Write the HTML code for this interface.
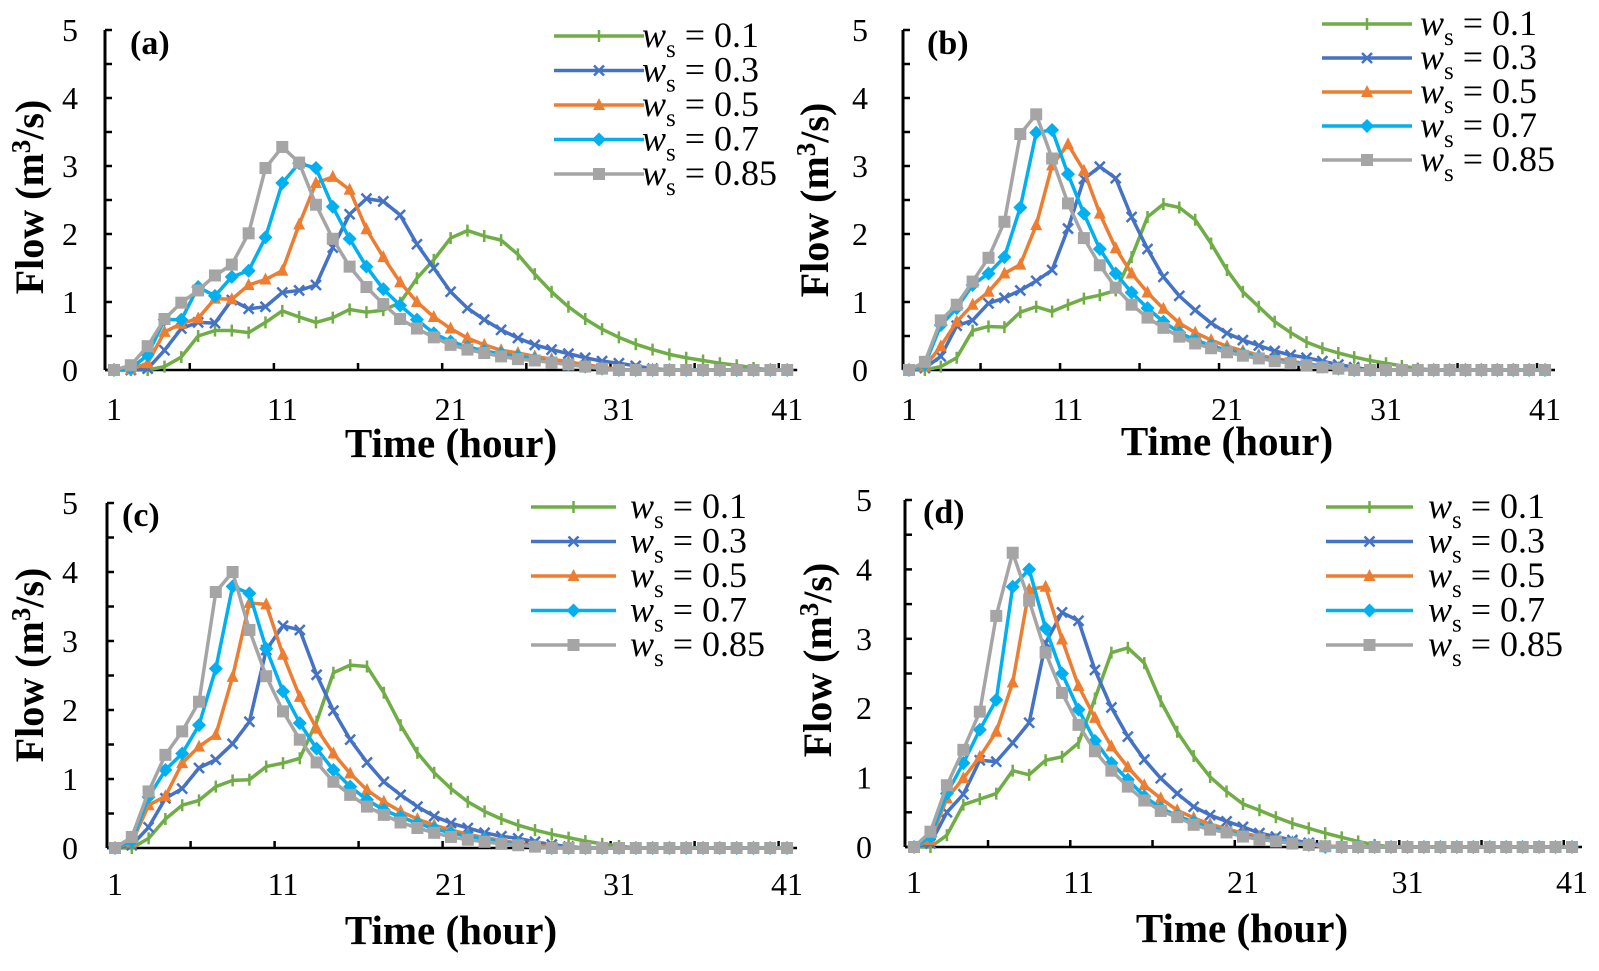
<!DOCTYPE html>
<html><head><meta charset="utf-8">
<style>
html,body{margin:0;padding:0;background:#fff;}
svg{display:block;font-family:"Liberation Serif",serif;}
</style></head>
<body>
<svg id="fig" width="1599" height="971" viewBox="0 0 1599 971" xmlns="http://www.w3.org/2000/svg"></svg>
<script>
const hours = Array.from({length:41},(_,i)=>i+1);
const xTickLabels = [1,11,21,31,41];
const yTickLabels = [0,1,2,3,4,5];
const seriesNames = ["0.1","0.3","0.5","0.7","0.85"];

const a_w01 = [0,0,0,0.05,0.19,0.5,0.58,0.58,0.55,0.7,0.87,0.78,0.7,0.77,0.89,0.85,0.88,0.99,1.35,1.62,1.94,2.05,1.97,1.91,1.7,1.41,1.15,0.93,0.75,0.6,0.48,0.38,0.3,0.23,0.18,0.14,0.1,0.07,0.03,0,0];
const a_w03 = [0,0,0.02,0.29,0.61,0.7,0.69,1.03,0.9,0.93,1.14,1.17,1.25,1.8,2.29,2.52,2.48,2.28,1.85,1.5,1.15,0.91,0.74,0.59,0.47,0.37,0.3,0.24,0.18,0.13,0.1,0.06,0.02,0,0,0,0,0,0,0,0];
const a_w05 = [0,0.01,0.1,0.56,0.68,0.76,1.05,1.04,1.25,1.33,1.46,2.14,2.75,2.84,2.65,2.07,1.66,1.29,1.0,0.78,0.61,0.47,0.37,0.29,0.25,0.2,0.16,0.12,0.08,0.04,0.01,0,0,0,0,0,0,0,0,0,0];
const a_w07 = [0,0.02,0.22,0.74,0.74,1.22,1.09,1.37,1.46,1.95,2.75,3.04,2.97,2.4,1.93,1.52,1.19,0.95,0.74,0.54,0.42,0.34,0.28,0.24,0.2,0.16,0.12,0.08,0.05,0.02,0,0,0,0,0,0,0,0,0,0,0];
const a_w085 = [0,0.07,0.35,0.75,0.99,1.17,1.39,1.55,2.01,2.97,3.28,3.05,2.43,1.93,1.52,1.22,0.97,0.75,0.61,0.48,0.37,0.3,0.25,0.2,0.16,0.14,0.11,0.08,0.05,0.02,0,0,0,0,0,0,0,0,0,0,0];

const b_w01 = [0,0,0.05,0.18,0.58,0.64,0.63,0.85,0.93,0.86,0.96,1.05,1.1,1.17,1.66,2.25,2.44,2.39,2.21,1.86,1.47,1.15,0.93,0.71,0.55,0.41,0.32,0.25,0.19,0.14,0.1,0.06,0.02,0,0,0,0,0,0,0,0];
const b_w03 = [0,0.03,0.2,0.65,0.73,0.98,1.06,1.17,1.31,1.47,2.08,2.81,2.99,2.82,2.25,1.78,1.37,1.09,0.88,0.69,0.54,0.44,0.36,0.28,0.22,0.18,0.13,0.08,0.04,0,0,0,0,0,0,0,0,0,0,0,0];
const b_w05 = [0,0.05,0.35,0.71,0.96,1.15,1.42,1.55,2.13,3.01,3.32,2.93,2.3,1.79,1.42,1.14,0.9,0.69,0.55,0.44,0.35,0.28,0.22,0.17,0.13,0.09,0.06,0.03,0,0,0,0,0,0,0,0,0,0,0,0,0];
const b_w07 = [0,0.08,0.66,0.91,1.25,1.42,1.66,2.39,3.49,3.53,2.88,2.3,1.78,1.42,1.14,0.91,0.71,0.55,0.44,0.36,0.29,0.24,0.19,0.15,0.11,0.08,0.05,0.02,0,0,0,0,0,0,0,0,0,0,0,0,0];
const b_w085 = [0,0.12,0.73,0.96,1.3,1.65,2.18,3.47,3.76,3.11,2.45,1.94,1.54,1.21,0.96,0.77,0.62,0.49,0.39,0.32,0.26,0.21,0.17,0.13,0.1,0.07,0.04,0.02,0,0,0,0,0,0,0,0,0,0,0,0,0];

const c_w01 = [0,0,0.14,0.42,0.62,0.69,0.89,0.98,0.99,1.18,1.23,1.3,1.83,2.54,2.65,2.63,2.25,1.78,1.38,1.09,0.86,0.67,0.53,0.42,0.33,0.26,0.2,0.15,0.1,0.06,0.03,0,0,0,0,0,0,0,0,0,0];
const c_w03 = [0,0.04,0.3,0.72,0.86,1.16,1.28,1.51,1.83,2.87,3.22,3.16,2.51,1.99,1.57,1.24,0.96,0.77,0.6,0.46,0.36,0.29,0.22,0.17,0.14,0.09,0.05,0.02,0,0,0,0,0,0,0,0,0,0,0,0,0];
const c_w05 = [0,0.08,0.62,0.75,1.23,1.47,1.64,2.48,3.55,3.53,2.8,2.19,1.73,1.37,1.08,0.84,0.67,0.53,0.42,0.33,0.26,0.2,0.15,0.11,0.07,0.04,0.02,0,0,0,0,0,0,0,0,0,0,0,0,0,0];
const c_w07 = [0,0.1,0.74,1.13,1.37,1.78,2.6,3.79,3.69,2.89,2.27,1.81,1.44,1.13,0.89,0.7,0.55,0.45,0.36,0.28,0.22,0.17,0.13,0.09,0.06,0.03,0,0,0,0,0,0,0,0,0,0,0,0,0,0,0];
const c_w085 = [0,0.16,0.82,1.35,1.69,2.12,3.71,4.0,3.16,2.49,1.98,1.57,1.24,0.96,0.77,0.6,0.48,0.37,0.29,0.22,0.16,0.12,0.09,0.06,0.04,0.02,0,0,0,0,0,0,0,0,0,0,0,0,0,0,0];

const d_w01 = [0,0,0.17,0.61,0.69,0.77,1.1,1.04,1.25,1.3,1.5,2.14,2.8,2.87,2.65,2.1,1.66,1.31,1.01,0.8,0.62,0.53,0.43,0.34,0.27,0.2,0.14,0.08,0.03,0,0,0,0,0,0,0,0,0,0,0,0];
const d_w03 = [0,0.05,0.5,0.76,1.25,1.23,1.5,1.79,2.94,3.38,3.26,2.55,2.01,1.59,1.26,0.99,0.77,0.58,0.46,0.37,0.29,0.2,0.15,0.1,0.06,0.02,0,0,0,0,0,0,0,0,0,0,0,0,0,0,0];
const d_w05 = [0,0.1,0.7,0.99,1.3,1.66,2.37,3.71,3.75,2.99,2.32,1.86,1.45,1.15,0.89,0.7,0.53,0.42,0.33,0.26,0.2,0.15,0.11,0.07,0.04,0.02,0,0,0,0,0,0,0,0,0,0,0,0,0,0,0];
const d_w07 = [0,0.15,0.77,1.21,1.69,2.12,3.75,4.0,3.15,2.5,1.98,1.53,1.21,0.97,0.73,0.56,0.45,0.36,0.28,0.22,0.17,0.12,0.09,0.06,0.03,0,0,0,0,0,0,0,0,0,0,0,0,0,0,0,0];
const d_w085 = [0,0.22,0.89,1.4,1.95,3.33,4.24,3.55,2.8,2.22,1.76,1.38,1.1,0.87,0.67,0.52,0.43,0.32,0.25,0.21,0.15,0.11,0.08,0.05,0.03,0.01,0,0,0,0,0,0,0,0,0,0,0,0,0,0,0];

const NS="http://www.w3.org/2000/svg";
const svg=document.getElementById('fig');
const colors=["#70AD47","#4472C4","#ED7D31","#00B0F0","#A5A5A5"];
const markerKinds=["plus","cross","tri","diamond","square"];

function mk(tag,attrs,parent){const e=document.createElementNS(NS,tag);for(const k in attrs)e.setAttribute(k,attrs[k]);(parent||svg).appendChild(e);return e;}

function drawMarker(g,kind,x,y,c){
  let m;
  if(kind==="plus"){m=mk('path',{d:`M${x},${y-6}V${y+6}`,stroke:c,'stroke-width':2.5},g);}
  else if(kind==="cross"){m=mk('path',{d:`M${x-5},${y-5}L${x+5},${y+5}M${x+5},${y-5}L${x-5},${y+5}`,stroke:c,'stroke-width':2.5},g);}
  else if(kind==="tri"){m=mk('polygon',{points:`${x},${y-7} ${x+6},${y+5} ${x-6},${y+5}`,fill:c},g);}
  else if(kind==="diamond"){m=mk('polygon',{points:`${x},${y-7} ${x+7},${y} ${x},${y+7} ${x-7},${y}`,fill:c},g);}
  else {m=mk('rect',{x:x-6,y:y-6,width:12,height:12,fill:c},g);}
  return m;
}

const panels=[
 {id:"a",data:[a_w01,a_w03,a_w05,a_w07,a_w085],ax:105,top:30,y0:370,x1:114,dx:16.83,ylx:78,xly:420,tx:451,ty:457,yt:[30,197],lab:[130,54],lg:[554,644,36,34.5,642]},
 {id:"b",data:[b_w01,b_w03,b_w05,b_w07,b_w085],ax:903,top:30,y0:370,x1:909,dx:15.9,ylx:868,xly:420,tx:1227,ty:455,yt:[815,200],lab:[927,54],lg:[1322,1412,24,34,1420]},
 {id:"c",data:[c_w01,c_w03,c_w05,c_w07,c_w085],ax:107,top:503,y0:848,x1:115,dx:16.8,ylx:78,xly:895,tx:451,ty:944,yt:[30,665],lab:[122,526],lg:[531,616,507,34.5,630]},
 {id:"d",data:[d_w01,d_w03,d_w05,d_w07,d_w085],ax:905,top:500,y0:847,x1:914,dx:16.45,ylx:872,xly:893,tx:1242,ty:942,yt:[818,660],lab:[923,523],lg:[1326,1413,507,34.5,1428]}
];

panels.forEach(p=>{
  const unit=(p.y0-p.top)/5;
  const X=h=>p.x1+(h-1)*p.dx;
  const Y=v=>p.y0-v*unit;
  const g=mk('g',{});
  
  
  const ya=mk('line',{x1:p.ax,y1:p.top,x2:p.ax,y2:p.y0,stroke:'#000','stroke-width':3},g);
  
  
  const xa=mk('line',{x1:p.ax,y1:p.y0,x2:X(41)+10,y2:p.y0,stroke:'#000','stroke-width':2.5},g);
  
  
  for(let v=0;v<=5;v+=0.5){mk('line',{x1:p.ax,y1:Y(v),x2:p.ax+7,y2:Y(v),stroke:'#000','stroke-width':2.5},g);}
  for(let h=5.5;h<=41;h+=5){mk('line',{x1:X(h),y1:p.y0,x2:X(h),y2:p.y0-7,stroke:'#000','stroke-width':2.5},g);}
  yTickLabels.forEach(v=>{
    const t=mk('text',{x:p.ylx,y:Y(v)+11,'text-anchor':'end','font-size':32},g);
    t.textContent=v;
    
    
  });
  xTickLabels.forEach(h=>{
    const t=mk('text',{x:X(h),y:p.xly,'text-anchor':'middle','font-size':32},g);
    t.textContent=h;
    
    
  });
  const tt=mk('text',{x:p.tx,y:p.ty,'text-anchor':'middle','font-size':41,'font-weight':'bold'},g);
  tt.textContent='Time (hour)';
  
  
  const yt=mk('text',{x:0,y:0,'text-anchor':'middle','font-size':40,'font-weight':'bold',transform:`translate(${p.yt[0]+13},${p.yt[1]}) rotate(-90)`},g);
  yt.innerHTML='Flow (m<tspan font-size="27" dy="-13">3</tspan><tspan dy="13">/s)</tspan>';
  
  
  const pl=mk('text',{x:p.lab[0],y:p.lab[1],'font-size':34,'font-weight':'bold'},g);
  pl.textContent='('+p.id+')';
  
  
  p.data.forEach((arr,si)=>{
    const sg=mk('g',{},g);
    
    
    const pts=arr.map((v,i)=>X(hours[i])+','+Y(v)).join(' ');
    const line=mk('polyline',{points:pts,fill:'none',stroke:colors[si],'stroke-width':3.5,'stroke-linejoin':'round'},sg);
    
    
    arr.forEach((v,i)=>{
      const m=drawMarker(sg,markerKinds[si],X(hours[i]),Y(v),colors[si]);
      
      
    });
  });
  const lg=mk('g',{},g);
  
  
  seriesNames.forEach((n,si)=>{
    const y=p.lg[2]+si*p.lg[3];
    const eg=mk('g',{},lg);
    
    
    mk('line',{x1:p.lg[0],y1:y,x2:p.lg[1],y2:y,stroke:colors[si],'stroke-width':3.5},eg);
    drawMarker(eg,markerKinds[si],(p.lg[0]+p.lg[1])/2,y,colors[si]);
    const t=mk('text',{x:p.lg[4],y:y+11,'font-size':36},eg);
    t.innerHTML='<tspan font-style="italic">w</tspan><tspan font-size="25" dy="10">s</tspan><tspan dy="-10"> = '+n+'</tspan>';
  });
});
</script>
</body></html>
